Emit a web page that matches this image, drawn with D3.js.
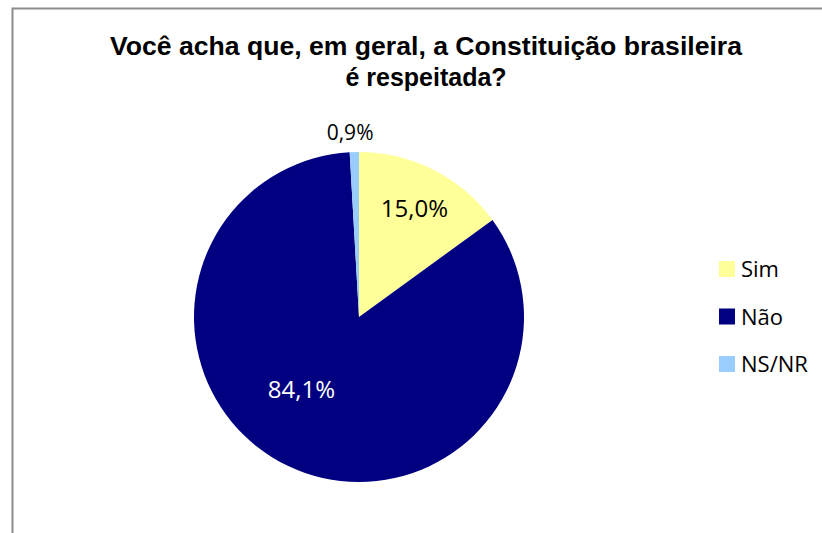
<!DOCTYPE html>
<html>
<head>
<meta charset="utf-8">
<script src="https://cdn.jsdelivr.net/npm/d3@7"></script>
<style>
  body { margin: 0; background: #fff; }
  svg { display: block; }
</style>
</head>
<body>
<script>
const categories = ["Sim", "Não", "NS/NR"];
const values = [15.0, 84.1, 0.9];
const labels = ["15,0%", "84,1%", "0,9%"];
const colors = ["#FFFF99", "#000080", "#99CCFF"];

const width = 822, height = 533;
const cx = 359, cy = 317, radius = 165;

const svg = d3.select("body")
  .append("svg")
  .attr("width", width)
  .attr("height", height);

// chart frame (right and bottom edges fall outside the window)
svg.append("path")
  .attr("d", `M12.5,${height + 5} V8.5 H${width + 5}`)
  .attr("fill", "none")
  .attr("stroke", "#8c8c8c")
  .attr("stroke-width", 2);

// title
const title = svg.append("text")
  .attr("text-anchor", "middle")
  .attr("font-family", "Liberation Sans, Arial, sans-serif")
  .attr("font-weight", "bold")
  .attr("font-size", 25)
  .attr("fill", "#000");
title.append("tspan").attr("x", 426).attr("y", 55)
  .attr("textLength", 632).attr("lengthAdjust", "spacingAndGlyphs")
  .text("Você acha que, em geral, a Constituição brasileira");
title.append("tspan").attr("x", 426).attr("y", 86).text("é respeitada?");

const data = categories.map((c, i) => ({ cat: c, value: values[i], label: labels[i], color: colors[i] }));

const pie = d3.pie().sort(null).value(d => d.value);
const arcs = pie(data);
const arc = d3.arc().innerRadius(0).outerRadius(radius);

const g = svg.append("g").attr("transform", `translate(${cx},${cy})`);

g.selectAll(".slice")
  .data(arcs)
  .enter()
  .append("path")
  .attr("class", "slice")
  .attr("d", arc)
  .attr("fill", d => d.data.color);

// label placement: radius factor and angle shift (radians) per slice
const labelPos = [
  { r: 0.74, da: 0 },
  { r: 0.56, da: 0.23 },
  { r: 1.12, da: -0.02 }
];

g.selectAll(".lbl")
  .data(arcs)
  .enter()
  .append("text")
  .attr("class", "lbl")
  .attr("transform", (d, i) => {
    const a = (d.startAngle + d.endAngle) / 2 + labelPos[i].da;
    const r = radius * labelPos[i].r;
    return `translate(${r * Math.sin(a)},${-r * Math.cos(a)})`;
  })
  .attr("text-anchor", "middle")
  .attr("dy", "0.36em")
  .attr("font-family", "Open Sans, Noto Sans, sans-serif")
  .attr("font-size", (d, i) => i === 2 ? 21 : 24)
  .attr("fill", d => d.data.cat === "Não" ? "#fff" : "#000")
  .text(d => d.data.label);

// legend
const legend = svg.selectAll(".legend")
  .data(data)
  .enter()
  .append("g")
  .attr("class", "legend")
  .attr("transform", (d, i) => `translate(719, ${261 + i * 47.5})`);

legend.append("rect")
  .attr("width", 16)
  .attr("height", 16)
  .attr("fill", d => d.color);

legend.append("text")
  .attr("x", 22)
  .attr("y", 16)
  .attr("font-family", "Open Sans, Noto Sans, sans-serif")
  .attr("font-size", 22)
  .attr("fill", "#000")
  .text(d => d.cat);
</script>
</body>
</html>
